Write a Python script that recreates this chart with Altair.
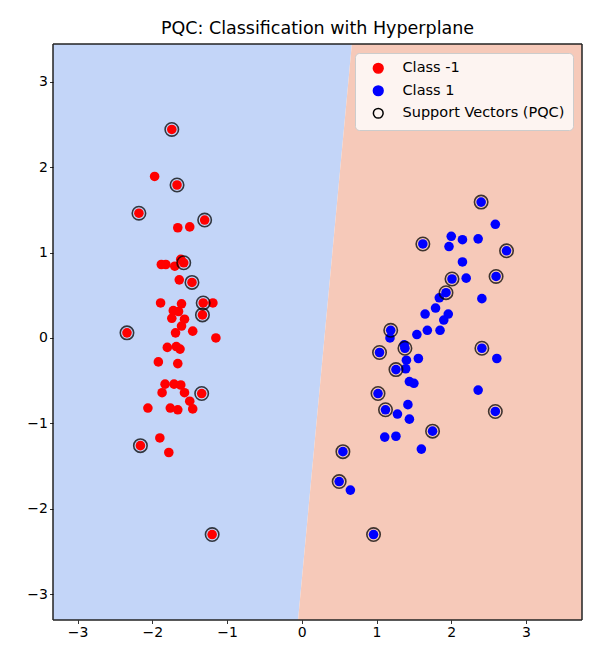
import altair as alt
import pandas as pd

# ---- data ----
red_x = [-1.74, -1.97, -1.67, -2.18, -1.30, -1.66, -1.50,
         -1.88, -1.82, -1.70, -1.58, -1.62, -1.64, -1.47, -1.89, -1.61, -1.32, -1.19,
         -1.33, -1.72, -1.65, -1.57, -1.74, -1.61, -1.69, -1.46, -2.34, -1.15,
         -1.80, -1.68, -1.63, -1.92, -1.66, -1.83, -1.71, -1.62, -1.87, -1.57,
         -1.34, -1.50, -2.06, -1.76, -1.66, -1.46, -1.90, -2.16, -1.78, -1.20]
red_y = [2.44, 1.89, 1.79, 1.46, 1.38, 1.29, 1.30,
         0.86, 0.86, 0.84, 0.88, 0.92, 0.68, 0.65, 0.41, 0.40, 0.41, 0.41,
         0.27, 0.32, 0.31, 0.22, 0.23, 0.14, 0.06, 0.08, 0.06, 0.00,
         -0.11, -0.10, -0.13, -0.28, -0.30, -0.54, -0.54, -0.55, -0.64, -0.64,
         -0.65, -0.74, -0.82, -0.82, -0.84, -0.83, -1.17, -1.26, -1.34, -2.30]

blue_x = [2.40, 2.59, 1.62, 2.00, 2.15, 2.36, 1.97, 2.74, 2.15, 2.01, 2.20, 2.60,
          1.93, 1.84, 2.41, 1.79, 1.65, 1.96, 1.90, 1.19, 1.54, 1.68, 1.85, 1.18,
          1.04, 1.38, 1.37, 1.56, 1.40, 1.26, 1.39, 2.41, 2.61, 1.44, 1.50, 2.36,
          1.02, 1.42, 1.12, 1.28, 1.44, 2.59, 1.75, 1.11, 1.26, 1.60, 0.55, 0.50,
          0.65, 0.96]
blue_y = [1.59, 1.33, 1.10, 1.19, 1.15, 1.16, 1.07, 1.02, 0.89, 0.69, 0.70, 0.72,
          0.53, 0.47, 0.46, 0.35, 0.28, 0.28, 0.21, 0.09, 0.04, 0.09, 0.09, 0.00,
          -0.17, -0.12, -0.08, -0.24, -0.26, -0.37, -0.36, -0.12, -0.24, -0.51, -0.53, -0.61,
          -0.65, -0.78, -0.84, -0.89, -0.95, -0.86, -1.09, -1.16, -1.15, -1.30, -1.33, -1.68,
          -1.78, -2.30]

sv_x = [-1.74, -1.67, -2.18, -1.30, -1.58, -1.47, -1.32, -1.33, -2.34, -1.34, -2.16, -1.20,
        2.40, 1.62, 2.74, 2.01, 2.60, 1.93, 1.19, 1.04, 1.38, 1.26, 2.41, 1.02, 1.12,
        2.59, 1.75, 0.55, 0.50, 0.96]
sv_y = [2.44, 1.79, 1.46, 1.38, 0.88, 0.65, 0.41, 0.27, 0.06, -0.65, -1.26, -2.30,
        1.59, 1.10, 1.02, 0.69, 0.72, 0.53, 0.09, -0.17, -0.12, -0.37, -0.12, -0.65, -0.84,
        -0.86, -1.09, -1.33, -1.68, -2.30]

# decision boundary (hyperplane) end points
boundary_x = [-0.05, 0.67]
boundary_y = [-3.30, 3.44]

x_domain = [-3.33, 3.75]
y_domain = [-3.30, 3.44]
tick_values = [-3, -2, -1, 0, 1, 2, 3]

series = ["Class -1", "Class 1", "Support Vectors (PQC)"]
title_text = "PQC: Classification with Hyperplane"

BLUE_BG = "#c3d5f8"
RED_BG = "#f6c9b9"

# ---- tables ----
regions = pd.DataFrame({
    "y": boundary_y,
    "xb": boundary_x,
    "xl": [x_domain[0]] * 2,
    "xr": [x_domain[1]] * 2,
})
pts = pd.DataFrame({
    "x": red_x + blue_x,
    "y": red_y + blue_y,
    "series": [series[0]] * len(red_x) + [series[1]] * len(blue_x),
})
svs = pd.DataFrame({"x": sv_x, "y": sv_y, "series": [series[2]] * len(sv_x)})

W, H = 529, 576

x_scale = alt.Scale(domain=x_domain, nice=False, zero=False)
y_scale = alt.Scale(domain=y_domain, nice=False, zero=False)
axis_common = dict(values=tick_values, format="d", grid=False, domain=False, tickColor="black",
                   tickSize=3.5, tickWidth=0.8, labelFontSize=14, labelColor="black",
                   labelFont="DejaVu Sans", labelPadding=2, title=None, zindex=1)
x_axis = alt.Axis(**axis_common)
y_axis = alt.Axis(**axis_common)

legend = alt.Legend(title=None, orient="none", legendX=302, legendY=9,
                    symbolType="circle", symbolSize=95, symbolStrokeWidth=1.5,
                    labelFont="DejaVu Sans", labelFontSize=14.5, labelColor="black",
                    labelLimit=400,
                    padding=8, rowPadding=5.5, symbolOffset=8, labelOffset=17,
                    fillColor="rgba(255,255,255,0.8)", strokeColor="#cccccc",
                    cornerRadius=4)
fill_scale = alt.Scale(domain=series, range=["red", "blue", "transparent"])
stroke_scale = alt.Scale(domain=series, range=["red", "blue", "black"])

left = alt.Chart(regions).mark_area(orient="horizontal", color=BLUE_BG, clip=True).encode(
    y=alt.Y("y:Q", scale=y_scale, axis=y_axis),
    x=alt.X("xl:Q", scale=x_scale, axis=x_axis),
    x2="xb:Q",
)
right = alt.Chart(regions).mark_area(orient="horizontal", color=RED_BG, clip=True).encode(
    y=alt.Y("y:Q", scale=y_scale),
    x=alt.X("xr:Q", scale=x_scale),
    x2="xb:Q",
)
points = alt.Chart(pts).mark_point(shape="circle", size=92, strokeWidth=0, opacity=1, clip=True).encode(
    x=alt.X("x:Q", scale=x_scale),
    y=alt.Y("y:Q", scale=y_scale),
    fill=alt.Fill("series:N", scale=fill_scale, legend=legend),
    stroke=alt.Stroke("series:N", scale=stroke_scale, legend=legend),
)
support = alt.Chart(svs).mark_point(shape="circle", size=180, strokeWidth=1.6, opacity=1,
                                    strokeOpacity=0.75, clip=True).encode(
    x=alt.X("x:Q", scale=x_scale),
    y=alt.Y("y:Q", scale=y_scale),
    fill=alt.Fill("series:N", scale=fill_scale, legend=legend),
    stroke=alt.Stroke("series:N", scale=stroke_scale, legend=legend),
)
frame = alt.Chart(regions).mark_rect(filled=False, stroke="#222222", strokeWidth=1).encode(
    x=alt.value(0), x2=alt.value(W), y=alt.value(0), y2=alt.value(H)
)

chart = alt.layer(left, right, points, support, frame).properties(
    width=W, height=H,
    title=alt.TitleParams(title_text, font="DejaVu Sans", fontSize=17.5, fontWeight="normal",
                          color="black", anchor="middle", offset=6),
    autosize=alt.AutoSizeParams(type="none"),
    padding={"left": 45, "top": 36, "right": 5, "bottom": 19},
).configure_view(stroke=None)

chart.save("out.html", embed_options={"renderer": "svg", "actions": False})
